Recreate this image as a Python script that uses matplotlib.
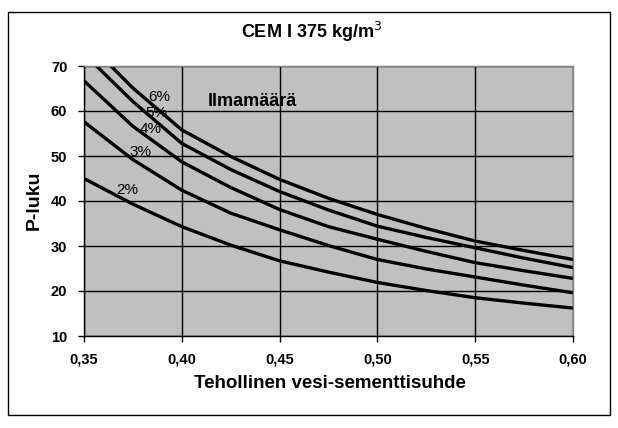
import matplotlib
matplotlib.use("Agg")
import matplotlib.pyplot as plt
from matplotlib.patches import Rectangle

plt.rcParams['font.family'] = ['Liberation Sans Narrow', 'Liberation Sans', 'DejaVu Sans']

x_vals = [0.35, 0.375, 0.40, 0.425, 0.45, 0.475, 0.50, 0.525, 0.55, 0.575, 0.60]
air_2 = [45.0, 39.3, 34.3, 30.2, 26.7, 24.2, 21.9, 20.1, 18.5, 17.3, 16.2]
air_3 = [57.6, 49.2, 42.4, 37.3, 33.6, 30.1, 27.0, 24.9, 23.1, 21.3, 19.6]
air_4 = [66.7, 56.6, 48.7, 43.0, 38.1, 34.3, 31.5, 28.8, 26.3, 24.5, 22.8]
air_5 = [72.7, 62.1, 52.8, 47.0, 42.1, 38.0, 34.4, 31.9, 29.6, 27.3, 25.2]
air_6 = [76.0, 65.1, 55.8, 49.9, 44.8, 40.6, 37.0, 33.9, 31.1, 29.0, 27.0]
series = [air_2, air_3, air_4, air_5, air_6]
labels = ["2%", "3%", "4%", "5%", "6%"]
label_pos = [(0.3721, 42.4), (0.3788, 50.9), (0.3839, 56.0), (0.3870, 59.6), (0.3885, 63.1)]
x_ticks = [0.35, 0.40, 0.45, 0.50, 0.55, 0.60]
x_tick_labels = ["0,35", "0,40", "0,45", "0,50", "0,55", "0,60"]
y_ticks = [10, 20, 30, 40, 50, 60, 70]

fig = plt.figure(figsize=(6.18, 4.28), dpi=100)
fig.patch.set_facecolor('white')
fig.patches.append(Rectangle((8/618, 1-415/428), 602/618, 403/428, transform=fig.transFigure,
                             fill=False, edgecolor='black', linewidth=1.0))
ax = fig.add_axes([84/618, 1-336/428, (573-84)/618, (336-66)/428])
ax.set_facecolor('#c0c0c0')

for s in series:
    ax.plot(x_vals, s, color='black', linewidth=2.4, solid_capstyle='butt')

for lab, (lx, ly) in zip(labels, label_pos):
    ax.text(lx, ly, lab, fontsize=11, ha='center', va='center', color='black')
ax.text(0.4135, 62.0, "Ilmamäärä", fontsize=13, ha='left', va='center', color='black', fontweight='bold')

ax.set_xlim(0.35, 0.60)
ax.set_ylim(10, 70)
ax.set_xticks(x_ticks)
ax.set_xticklabels(x_tick_labels, fontweight='bold', fontsize=10.5)
ax.set_yticks(y_ticks)
ax.set_yticklabels([str(v) for v in y_ticks], fontweight='bold', fontsize=10.5)
ax.grid(True, color='black', linewidth=1.0)
ax.set_axisbelow(True)
ax.tick_params(axis='both', direction='out', length=4, width=1, color='black', pad=8)
for sp in ax.spines.values():
    sp.set_color('#808080')
    sp.set_linewidth(1.0)
ax.spines['left'].set_color('black')
ax.spines['bottom'].set_color('black')

fig.text(312/618, 1-32/428, "CEM I 375 kg/m$^3$", ha='center', va='center', fontsize=13, fontweight='bold')
fig.text(34/618, 1-200/428, "P-luku", ha='center', va='center', rotation=90, fontsize=14, fontweight='bold')
fig.text(330/618, 1-384/428, "Tehollinen vesi-sementtisuhde", ha='center', va='center', fontsize=13.5, fontweight='bold')

fig.savefig("out.png", dpi=100)
